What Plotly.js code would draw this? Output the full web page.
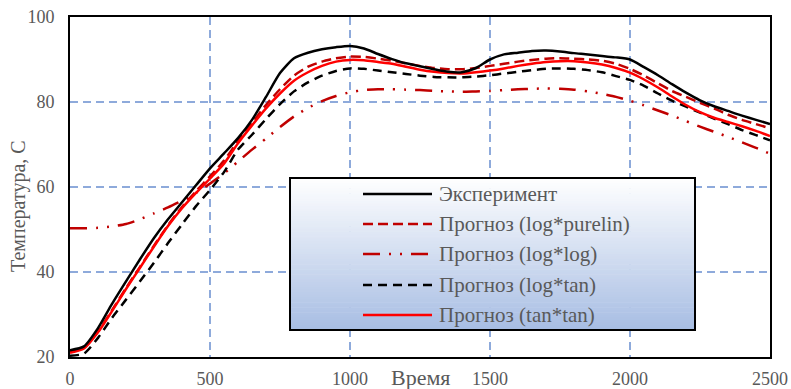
<!DOCTYPE html>
<html>
<head>
<meta charset="utf-8">
<script src="https://cdn.plot.ly/plotly-3.0.1.min.js"></script>
<style>html,body{margin:0;padding:0;background:#fff;}#chart{width:791px;height:389px;}</style>
</head>
<body>
<div id="chart"></div>
<script>
// ---- data ----
const time = [0,50,100,150,200,250,300,350,400,450,500,550,600,650,700,750,800,850,900,950,1000,1050,1100,1150,1200,1250,1300,1350,1400,1450,1500,1550,1600,1650,1700,1750,1800,1850,1900,1950,2000,2050,2100,2150,2200,2250,2300,2350,2400,2450,2500];
const experiment = [21.6,22.5,26.8,32.5,37.8,43,48,52.4,56.4,60.4,64.4,67.9,71.5,75.8,81.2,86.8,90.3,91.6,92.4,92.9,93.2,92.6,91.3,90.1,89.1,88.4,87.7,87.1,87.0,88.0,90.0,91.2,91.6,92.0,92.1,91.9,91.5,91.2,90.8,90.5,90.0,88.2,86.3,84.2,82.2,80.4,79.0,77.9,76.8,75.8,74.8];
const logPurelin = [21.3,22.2,26,31,36.2,41.2,46.2,51,55.3,59,62.5,66.2,70.8,75,79.3,83,86.2,88.3,89.5,90.3,90.7,90.6,90.2,89.7,89.1,88.5,88.0,87.7,87.7,88.0,88.5,89.0,89.5,89.9,90.2,90.3,90.2,90.0,89.7,89.0,87.8,86.2,84.4,82.6,81.2,79.8,78.5,77.0,75.8,74.8,73.8];
const logLog = [50.3,50.3,50.4,50.7,51.3,52.4,53.8,55.2,56.8,58.6,60.8,63.2,66.0,68.8,71.4,74.1,76.6,78.6,80.2,81.4,82.3,82.8,83.0,83.0,82.9,82.8,82.6,82.5,82.4,82.5,82.6,82.8,83.0,83.1,83.2,83.1,82.9,82.5,81.9,81.2,80.3,79.2,78.0,76.8,75.5,74.2,73.0,71.8,70.5,69.2,67.8];
const logTan = [20.3,20.8,24.5,29.2,33.5,37.8,42.2,46.8,51.2,55.5,59.3,63.5,68.8,72.3,76,79.5,82.5,84.6,86.2,87.3,87.9,87.8,87.4,87.0,86.6,86.2,85.9,85.8,85.8,86.0,86.3,86.7,87.1,87.5,87.8,87.9,87.8,87.5,87.0,86.1,85.2,83.8,82.0,80.3,78.9,77.5,76.1,74.8,73.4,72.2,71.0];
const tanTan = [21.0,22.0,25.8,30.8,36,41,46,50.8,55,58.6,62,65.5,70.3,74.5,78.5,82,85,87,88.5,89.5,89.9,89.8,89.4,89.0,88.3,87.6,87.1,86.8,86.7,87.0,87.4,87.9,88.5,89.0,89.4,89.6,89.6,89.3,88.8,88.0,86.9,85.3,83.4,81.3,79.3,77.6,76.3,75.3,74.3,73.2,72.0];

const seriesNames = ["Эксперимент","Прогноз (log*purelin)","Прогноз (log*log)","Прогноз (log*tan)","Прогноз (tan*tan)"];
const seriesValues = [experiment, logPurelin, logLog, logTan, tanTan];
const xTicks = [0,500,1000,1500,2000,2500];
const yTicks = [20,40,60,80,100];
const xTitle = "Время";
const yTitle = "Температура, С";

// ---- styles ----
const serif = "Liberation Serif, Times New Roman, serif";
const styles = [
  {color:"#000000", width:2.5, dash:"solid"},
  {color:"#C00000", width:2.5, dash:"10px,5px"},
  {color:"#C00000", width:2.5, dash:"17px,9px,2px,9px,2px,9px"},
  {color:"#000000", width:2.5, dash:"9px,6px"},
  {color:"#FF0000", width:2.5, dash:"solid"}
];
const drawOrder = [2,3,1,4,0];

const traces = drawOrder.map(i => ({
  type:"scatter", mode:"lines", x:time, y:seriesValues[i], name:seriesNames[i],
  line:{color:styles[i].color, width:styles[i].width, dash:styles[i].dash, shape:"spline", smoothing:0.6},
  showlegend:false, hoverinfo:"skip"
}));

// ---- custom legend (gradient box) ----
const L = 70, R = 770, T = 17, B = 357;
const px2x = p => (p - L) / (R - L);
const px2y = p => (B - p) / (B - T);
const box = {x0:290, x1:695, y0:178, y1:330};
const shapes = [];
const nStrips = 60;
const c0 = [255,255,255], c1 = [167,189,227];
for (let k = 0; k < nStrips; k++) {
  const f = (k + 0.5) / nStrips;
  const c = c0.map((v,j) => Math.round(v + (c1[j]-v)*f));
  const ya = box.y0 + (box.y1-box.y0)*k/nStrips;
  const yb = box.y0 + (box.y1-box.y0)*(k+1)/nStrips + 0.6;
  shapes.push({type:"rect", xref:"paper", yref:"paper", layer:"above",
    x0:px2x(box.x0), x1:px2x(box.x1), y0:px2y(Math.min(yb,box.y1)), y1:px2y(ya),
    line:{width:0}, fillcolor:`rgb(${c[0]},${c[1]},${c[2]})`});
}
shapes.push({type:"rect", xref:"paper", yref:"paper", layer:"above",
  x0:px2x(box.x0), x1:px2x(box.x1), y0:px2y(box.y1), y1:px2y(box.y0),
  line:{color:"#000000", width:2}, fillcolor:"rgba(0,0,0,0)"});
const rowY = [194,224,254,285,315];
const annotations = [];
seriesNames.forEach((name,i) => {
  shapes.push({type:"line", xref:"paper", yref:"paper", layer:"above",
    x0:px2x(363), x1:px2x(432), y0:px2y(rowY[i]), y1:px2y(rowY[i]),
    line:{color:styles[i].color, width:styles[i].width, dash:styles[i].dash}});
  annotations.push({xref:"paper", yref:"paper", x:px2x(437), y:px2y(rowY[i]), xanchor:"left", yanchor:"middle",
    text:name, showarrow:false, font:{family:serif, size:21, color:"#595959"}});
});
annotations.push({xref:"paper", yref:"paper", x:px2x(420), y:px2y(377), xanchor:"center", yanchor:"middle",
  text:xTitle, showarrow:false, font:{family:serif, size:22, color:"#595959"}});
annotations.push({xref:"paper", yref:"paper", x:px2x(18), y:px2y(206), xanchor:"center", yanchor:"middle",
  text:yTitle, textangle:-90, showarrow:false, font:{family:serif, size:20, color:"#595959"}});

const axisCommon = {
  showline:true, mirror:true, linecolor:"#000000", linewidth:2,
  showgrid:true, gridcolor:"#8EAADB", gridwidth:1.5, griddash:"8px,5px",
  zeroline:false, ticks:"", tickfont:{family:serif, size:18, color:"#595959"}
};

const layout = {
  width:791, height:389,
  margin:{l:L, r:791-R, t:T, b:389-B, pad:0},
  paper_bgcolor:"#ffffff", plot_bgcolor:"#ffffff",
  showlegend:false,
  xaxis:Object.assign({}, axisCommon, {range:[0,2500], tickvals:xTicks, ticktext:xTicks.map(String), ticklabelstandoff:4}),
  yaxis:Object.assign({}, axisCommon, {range:[20,100], tickvals:yTicks, ticktext:yTicks.map(String), ticklabelstandoff:10}),
  shapes:shapes,
  annotations:annotations
};

Plotly.newPlot("chart", traces, layout, {staticPlot:true, displayModeBar:false});
</script>
</body>
</html>
